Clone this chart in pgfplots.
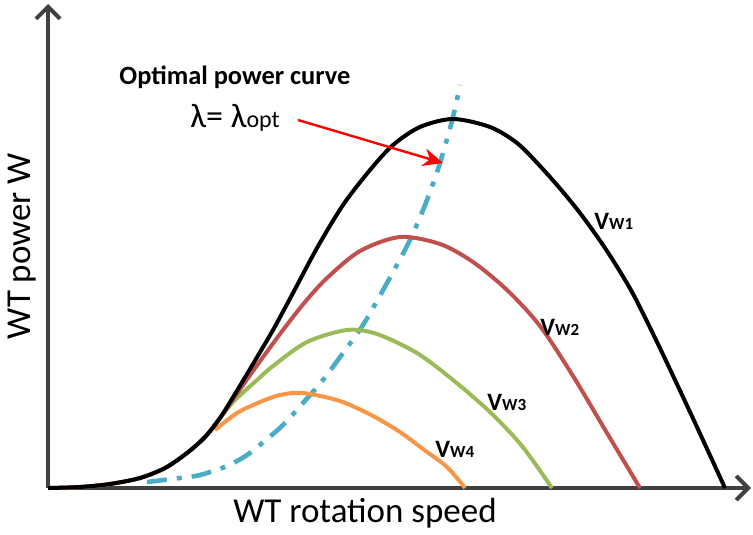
\documentclass[border=0pt]{standalone}
\usepackage{pgfplots}
\pgfplotsset{compat=1.18}
\usepackage{fontspec}
\setmainfont{Carlito}
\usetikzlibrary{arrows.meta}

\definecolor{axgray}{HTML}{404040}
\definecolor{cred}{HTML}{C0504D}
\definecolor{cgreen}{HTML}{9BBB59}
\definecolor{corange}{HTML}{F79646}
\definecolor{cblue}{HTML}{4BACC6}

\begin{document}
\begin{tikzpicture}
  \begin{axis}[
    scale only axis,
    width=376.5pt, height=265.5pt,
    xmin=0, xmax=753, ymin=0, ymax=531,
    y dir=reverse,
    axis lines=none,
    clip=false,
  ]
    % frame for the bounding box
    \addplot[draw=none] coordinates {(0,0) (753,531)};

    % axes
    \addplot[axgray, line width=2pt, -{Straight Barb[length=6pt,width=12pt,line width=2pt]}]
      coordinates {(48,488) (751,488)};
    \addplot[axgray, line width=2pt, -{Straight Barb[length=6pt,width=12pt,line width=2pt]}]
      coordinates {(48,488) (48,4)};

    % optimal power curve
    \addplot[cblue, line width=2.3pt, smooth, dash pattern=on 10pt off 5pt on 2.5pt off 5pt]
      coordinates {(147,482) (180,478) (200,475) (227,466) (247,455) (267,439)
        (283,425) (303,403) (323,380) (343,353) (363,325) (387,283) (410,240)
        (427,200) (440,163) (453,117) (460,85)};

    % Vw4
    \addplot[corange, line width=2pt, smooth]
      coordinates {(215,430) (237,413) (260,402) (280,395) (303,393) (340,401)
        (373,416) (400,432) (423,449) (447,467) (465,488)};
    % Vw3
    \addplot[cgreen, line width=2pt, smooth]
      coordinates {(48,488) (80,487) (110,484) (140,478) (165,468) (187,453)
        (205,437) (220,418) (234,401) (257,380) (273,366) (307,342) (347,330)
        (377,334) (417,353) (453,380) (490,412) (522,446) (552,488)};
    % Vw2
    \addplot[cred, line width=2pt, smooth]
      coordinates {(48,488) (80,487) (110,484) (140,478) (165,468) (187,453)
        (205,437) (220,418) (236,395) (258,364) (283,330) (305,302) (327,278)
        (360,251) (400,237) (440,244) (473,262) (507,290) (540,326) (573,376)
        (607,433) (640,488)};
    % Vw1
    \addplot[black, line width=2pt, smooth]
      coordinates {(48,488) (80,487) (110,484) (140,478) (165,468) (187,453)
        (205,437) (220,418) (235,394) (253,364) (273,330) (293,293) (317,248)
        (343,205) (370,170) (393,145) (420,127) (453,119) (490,127) (517,143)
        (540,166) (563,192) (583,217) (607,251) (632,292) (657,342) (690,412)
        (725,488)};

    % annotations
    \draw[red, line width=1.2pt, -{Stealth[length=10pt,width=9pt]}]
      (axis cs:298,120) -- (axis cs:443,163);
    \node[font=\fontsize{13.2}{15}\selectfont\bfseries] at (axis cs:235,77) {Optimal power curve};
    \node[inner sep=0pt, font=\fontsize{17}{19}\selectfont, anchor=base west] at (axis cs:190,127)
      {λ= λ{\fontsize{12}{13}\selectfont opt}};

    \node[inner sep=0pt, font=\fontsize{12.5}{14}\selectfont\bfseries, anchor=base west] at (axis cs:594,229)
      {V{\fontsize{8.5}{9}\selectfont W1}};
    \node[inner sep=0pt, font=\fontsize{12.5}{14}\selectfont\bfseries, anchor=base west] at (axis cs:540,335)
      {V{\fontsize{8.5}{9}\selectfont W2}};
    \node[inner sep=0pt, font=\fontsize{12.5}{14}\selectfont\bfseries, anchor=base west] at (axis cs:487,410)
      {V{\fontsize{8.5}{9}\selectfont W3}};
    \node[inner sep=0pt, font=\fontsize{12.5}{14}\selectfont\bfseries, anchor=base west] at (axis cs:435,457)
      {V{\fontsize{8.5}{9}\selectfont W4}};

    % axis titles
    \node[font=\fontsize{17.5}{20}\selectfont] at (axis cs:365,513) {WT rotation speed};
    \node[font=\fontsize{17.5}{20}\selectfont, rotate=90] at (axis cs:22,246) {WT power W};
  \end{axis}
\end{tikzpicture}
\end{document}
